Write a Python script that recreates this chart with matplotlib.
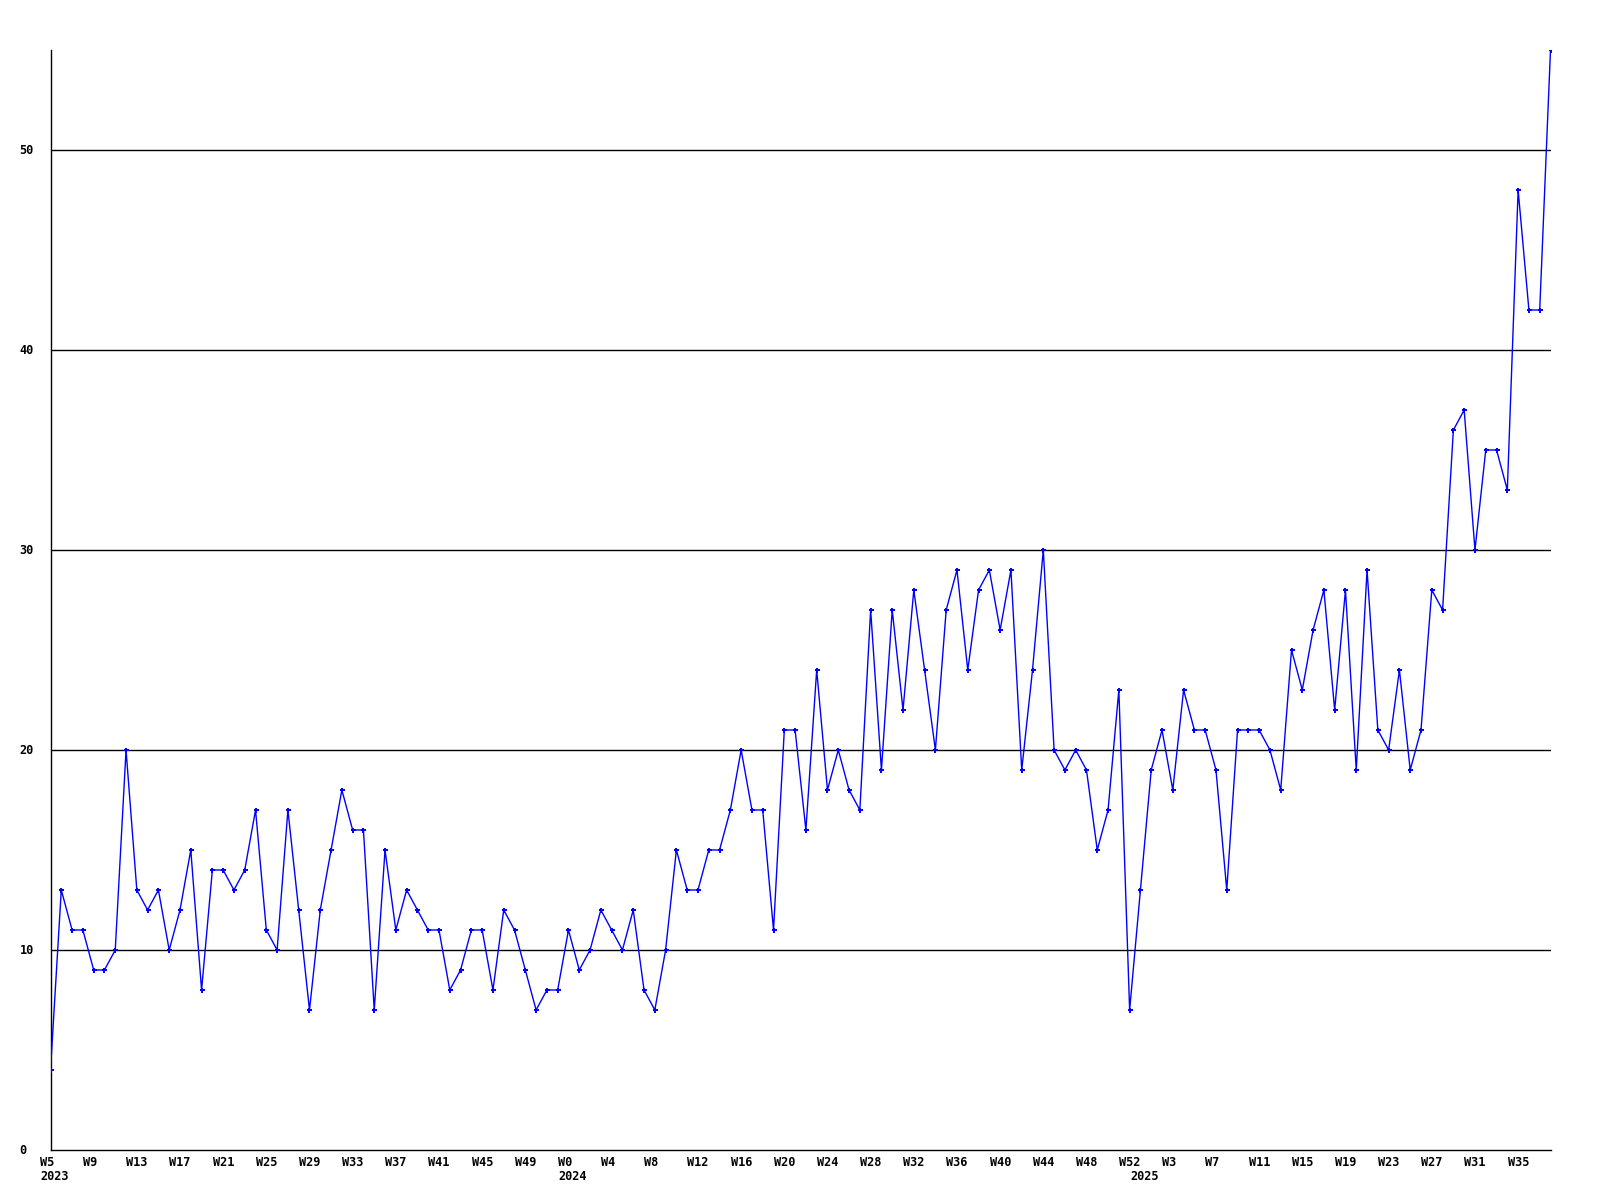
import matplotlib
matplotlib.use("Agg")
import matplotlib.pyplot as plt
import matplotlib.transforms as mtransforms
import numpy as np

# ---- data ----
weeks_2023 = list(range(5, 53))   # W5..W52
weeks_2024 = list(range(0, 53))   # W0..W52
weeks_2025 = list(range(0, 39))   # W0..W38
week_numbers = weeks_2023 + weeks_2024 + weeks_2025
years = ["2023", "2024", "2025"]

values = [
    4, 13, 11, 11, 9, 9, 10, 20, 13, 12,
    13, 10, 12, 15, 8, 14, 14, 13, 14, 17,
    11, 10, 17, 12, 7, 12, 15, 18, 16, 16,
    7, 15, 11, 13, 12, 11, 11, 8, 9, 11,
    11, 8, 12, 11, 9, 7, 8, 8, 11, 9,
    10, 12, 11, 10, 12, 8, 7, 10, 15, 13,
    13, 15, 15, 17, 20, 17, 17, 11, 21, 21,
    16, 24, 18, 20, 18, 17, 27, 19, 27, 22,
    28, 24, 20, 27, 29, 24, 28, 29, 26, 29,
    19, 24, 30, 20, 19, 20, 19, 15, 17, 23,
    7, 13, 19, 21, 18, 23, 21, 21, 19, 13,
    21, 21, 21, 20, 18, 25, 23, 26, 28, 22,
    28, 19, 29, 21, 20, 24, 19, 21, 28, 27,
    36, 37, 30, 35, 35, 33, 48, 42, 42, 55,
]
y_ticks = [0, 10, 20, 30, 40, 50]

# ---- figure ----
fig = plt.figure(figsize=(16, 12), dpi=100)
left_px, right_px = 50.5, 1551
ax = fig.add_axes([left_px / 1600, 1 - 1150 / 1200, (right_px - left_px) / 1600, 1100 / 1200])

x = np.arange(len(values))
ax.set_xlim(0, (len(values) - 1) * (right_px - left_px) / (1550.5 - left_px))
ax.set_ylim(0, 55)

for t in y_ticks[1:]:
    ax.axhline(t, color="black", lw=1.0, zorder=1)

ax.plot(x, values, color="#0000ff", lw=1.0, marker="P", markersize=3.6,
        markeredgewidth=0, zorder=3, clip_on=True)

for s in ["top", "right"]:
    ax.spines[s].set_visible(False)
ax.spines["left"].set_linewidth(1.0)
ax.spines["bottom"].set_linewidth(1.0)

ax.set_xticks([])
ax.set_yticks([])

font = dict(family="DejaVu Sans Mono", fontweight="bold", fontsize=8.6)

# y labels, left aligned
ytrans = mtransforms.blended_transform_factory(fig.transFigure, ax.transData)
for t in y_ticks:
    ax.text(19.5 / 1600, t, str(t), transform=ytrans, ha="left", va="center", **font)

# x tick labels every 4 points
shift = mtransforms.ScaledTranslation(-10.5 / 100, 0, fig.dpi_scale_trans)
trans = mtransforms.blended_transform_factory(ax.transData, fig.transFigure) + shift
for i in range(0, len(values), 4):
    ax.text(i, 1 - 1162 / 1200, "W%d" % week_numbers[i], transform=trans,
            ha="left", va="center", **font)

# year labels at first week of each year
year_starts = [0, len(weeks_2023), len(weeks_2023) + len(weeks_2024)]
for yr, i in zip(years, year_starts):
    ax.text(i, 1 - 1177 / 1200, yr, transform=trans, ha="left", va="center", **font)

fig.savefig("out.png", dpi=100, facecolor="white")
